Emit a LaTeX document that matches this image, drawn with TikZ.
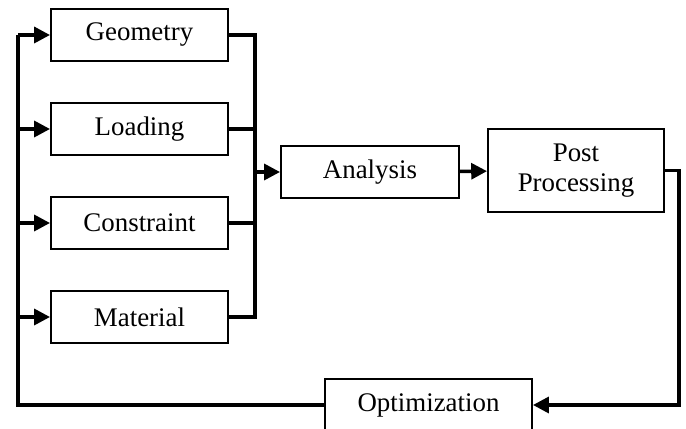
\documentclass[tikz,border=0pt]{standalone}
\usepackage{fontspec}
\setmainfont{Liberation Serif}
\usetikzlibrary{arrows.meta}

\begin{document}
\begin{tikzpicture}[
    blk/.style={rectangle, draw, line width=1.1pt, minimum width=3.54cm,
                minimum height=1.04cm, align=center, inner sep=2pt,
                font=\fontsize{15.3}{17.5}\selectfont},
    conn/.style={line width=2pt},
    arr/.style={conn, -{Triangle[length=9pt, width=9pt]}},
  ]
  \useasboundingbox (0, 0) rectangle (13.72, -8.58);

  % Inputs
  \node[blk] (geo)  at (2.79, -0.70) {Geometry};
  \node[blk] (load) at (2.79, -2.58) {Loading};
  \node[blk] (cons) at (2.79, -4.46) {Constraint};
  \node[blk] (mat)  at (2.79, -6.34) {Material};

  % Solver and output
  \node[blk, minimum width=3.56cm] (ana) at (7.40, -3.44) {Analysis};
  \node[blk, minimum width=3.52cm, minimum height=1.66cm] (post) at (11.52, -3.41) {Post\\Processing};

  % Feedback
  \node[blk, minimum width=4.14cm] (opt) at (8.57, -8.10) {Optimization};

  % Collecting bus
  \coordinate (bust) at (5.10, -0.70);
  \coordinate (busb) at (5.10, -6.34);
  \draw[conn] (geo.east) -- (bust) -- (busb) -- (mat.east);
  \draw[conn] (load.east) -- (load.east -| bust);
  \draw[conn] (cons.east) -- (cons.east -| bust);

  % Main flow
  \draw[arr] (ana.west -| bust) -- (ana.west);
  \draw[arr] (ana) -- (post);
  \draw[arr] (post.east) -- ++(0.28, 0) |- (opt.east);

  % Loop back to inputs
  \coordinate (lft) at (0.36, -0.70);
  \draw[conn] (opt.west) -| (lft);
  \foreach \n in {geo, load, cons, mat}
    \draw[arr] (lft |- \n.west) -- (\n.west);

\end{tikzpicture}
\end{document}
